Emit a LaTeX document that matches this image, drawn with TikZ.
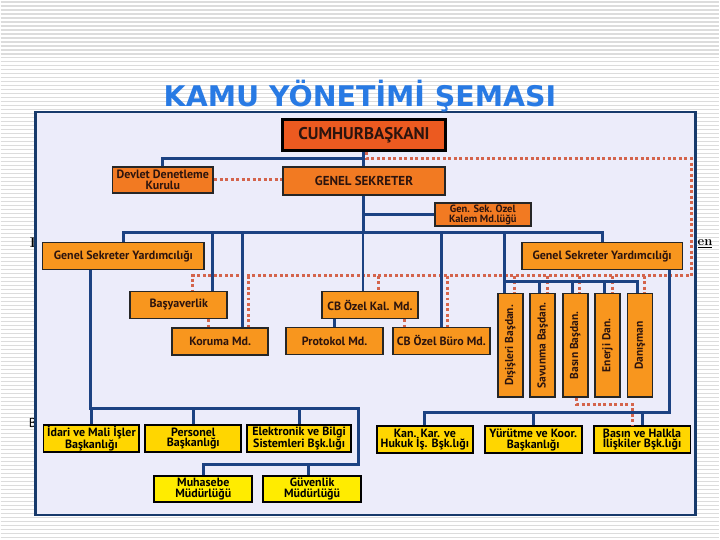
\documentclass[tikz,border=0pt]{standalone}
\usepackage{fontspec}
\setsansfont{PT Sans}
\newfontfamily\titlefont{DejaVu Sans}
\usetikzlibrary{positioning}
\usetikzlibrary{calc}

\definecolor{busblue}{RGB}{28,66,130}
\definecolor{frameblue}{RGB}{23,58,107}
\definecolor{panelbg}{RGB}{236,236,250}
\definecolor{dotred}{RGB}{212,100,76}
\definecolor{titleblue}{RGB}{40,122,228}
\definecolor{cbred}{RGB}{236,90,32}
\definecolor{gsorange}{RGB}{242,122,34}
\definecolor{boxorange}{RGB}{248,150,30}
\definecolor{boxyellow}{RGB}{255,214,0}
\definecolor{boxyellowb}{RGB}{255,236,0}
\definecolor{boxtext}{RGB}{44,20,14}
\definecolor{stripe}{RGB}{220,220,220}

\begin{document}
\begin{tikzpicture}[x=1pt, y=-1pt,
    box/.style = {draw=black!85, line width=1.8pt, inner sep=1pt, align=center, text=boxtext,
                  font=\sffamily\bfseries\fontsize{12}{11}\selectfont},
    orangebox/.style = {box, fill=boxorange, minimum width=96pt, minimum height=27pt},
    yellowbox/.style = {box, draw=black, fill=boxyellow, text=black, minimum width=96pt, minimum height=27pt,
                  font=\sffamily\bfseries\fontsize{12}{10.5}\selectfont},
    vbox/.style = {box, fill=boxorange, rotate=90, minimum width=104pt, minimum height=25pt,
                  font=\sffamily\bfseries\fontsize{11.5}{10}\selectfont},
    bus/.style = {busblue, line width=3pt},
    dots/.style = {dotred, line width=3pt, dash pattern=on 3pt off 2.5pt},
    stray/.style = {inner sep=0pt, anchor=base west, text=black}
    ]

    % --- Sfondo a righe ---
    \fill[white] (0,0) rectangle (720,540);
    \foreach \y in {2,6,...,538}
        \draw[stripe, line width=1.2pt] (0,\y) -- (720,\y);

    % --- Resti di testo dietro il pannello ---
    \node[stray, font=\rmfamily\bfseries\fontsize{14}{14}\selectfont] (strayI) at (29,248) {I};
    \node[stray, font=\sffamily\fontsize{13}{13}\selectfont] (strayB) at (28,428) {B};
    \node[stray, font=\rmfamily\bfseries\fontsize{13}{13}\selectfont] (strayEn) at (698,246) {\underline{en}};

    % --- Pannello ---
    \draw[frameblue, line width=2.5pt, fill=panelbg] (35,112) rectangle (696,516);

    % --- Titolo ---
    \node[anchor=base, inner sep=0pt, text=titleblue,
          font=\titlefont\bfseries\fontsize{28.5}{28.5}\selectfont] (title) at (360,107) {KAMU YÖNETİMİ ŞEMASI};

    % --- Nodi ---
    \node[box, fill=cbred, draw=black, line width=3pt, minimum width=164pt, minimum height=31pt,
          font=\sffamily\bfseries\fontsize{17}{17}\selectfont] (cb) at (364,135.5) {CUMHURBAŞKANI};
    \node[orangebox, fill=gsorange, minimum width=162pt, minimum height=28pt,
          font=\sffamily\bfseries\fontsize{13}{13}\selectfont] (gs) at (364,181) {GENEL SEKRETER};
    \node[orangebox, fill=gsorange, minimum width=101pt, minimum height=26pt] (ddk) at (162.5,180) {Devlet Denetleme\\Kurulu};
    \node[orangebox, fill=gsorange, minimum height=23pt,
          font=\sffamily\bfseries\fontsize{10.5}{9.5}\selectfont] (gsozel) at (483,214.5) {Gen. Sek. Özel\\Kalem Md.lüğü};

    \node[orangebox, minimum width=162pt] (gsyl) at (123,256.5) {Genel Sekreter Yardımcılığı};
    \node[orangebox, minimum width=161pt] (gsyr) at (602.5,256.5) {Genel Sekreter Yardımcılığı};

    \node[orangebox, minimum width=97pt] (basy) at (178.5,305.5) {Başyaverlik};
    \node[orangebox] (cbkal) at (370,305.5) {CB Özel Kal. Md.};
    \node[orangebox] (koruma) at (220,342) {Koruma Md.};
    \node[orangebox, minimum width=97pt] (protokol) at (334.5,341.5) {Protokol Md.};
    \node[orangebox, minimum width=97pt] (buro) at (441.5,341.5) {CB Özel Büro Md.};

    \foreach \i/\t in {1/Dışişleri Başdan., 2/Savunma Başdan., 3/Basın Başdan., 4/Enerji Dan., 5/Danışman}
        \node[vbox] (d\i) at ({510.5+32.5*(\i-1)},346) {\t};

    \node[yellowbox] (idari) at (91,439.5) {İdari ve Mali İşler\\Başkanlığı};
    \node[yellowbox] (personel) at (193,439.5) {Personel\\Başkanlığı};
    \node[yellowbox, minimum width=104pt] (elektronik) at (299,439.5) {Elektronik ve Bilgi\\Sistemleri Bşk.lığı};
    \node[yellowbox, fill=boxyellowb, minimum width=98pt, minimum height=26pt] (muhasebe) at (203,490) {Muhasebe\\Müdürlüğü};
    \node[yellowbox, fill=boxyellowb, minimum width=98pt, minimum height=26pt] (guvenlik) at (312,490) {Güvenlik\\Müdürlüğü};
    \node[yellowbox] (kankar) at (425,440.5) {Kan. Kar. ve\\Hukuk İş. Bşk.lığı};
    \node[yellowbox, minimum width=97pt] (yurutme) at (533.5,440.5) {Yürütme ve Koor.\\Başkanlığı};
    \node[yellowbox, minimum width=97pt] (basinhalk) at (642.5,440.5) {Basın ve Halkla\\İlişkiler Bşk.lığı};

    % --- Livelli delle linee ---
    \coordinate (barCB) at (0,159);
    \coordinate (busA) at (0,233);
    \coordinate (dotA) at (0,276);
    \coordinate (busB) at (0,282);
    \coordinate (busD) at (0,405);
    \coordinate (busL) at (0,409);
    \coordinate (busR) at (0,413);
    \coordinate (busM) at (0,465);
    \coordinate (cornerL) at (358,409);
    \coordinate (dotR) at (692,276);

    % --- Linee tratteggiate ---
    \coordinate (cbD) at ($(cb.south)+(3,0)$);
    \coordinate (basyD) at ($(basy.north)+(13.5,0)$);
    \coordinate (korD) at ($(koruma.north)+(28,0)$);
    \coordinate (cbkD) at ($(cbkal.north)+(9,0)$);
    \coordinate (buroD) at ($(buro.north)+(6.5,0)$);
    \coordinate (basyS) at ($(basy.south)+(29.5,0)$);
    \coordinate (cbkS) at ($(cbkal.south)+(35,0)$);
    \coordinate (d3S) at ($(d3.west)+(1.5,0)$);
    \coordinate (bhD) at ($(basinhalk.north)+(-9.5,0)$);

    \draw[dots] (cbD) |- (dotR |- barCB) -- (dotR) -- (basyD |- dotA) -- (basyD);
    \draw[dots] (ddk.east) -- (ddk.east -| gs.west);
    \draw[dots] (korD |- dotA) -- (korD);
    \draw[dots] (cbkD |- dotA) -- (cbkD);
    \draw[dots] (buroD |- dotA) -- (buroD);
    \foreach \i in {1,...,5} {
        \coordinate (dD\i) at ($(d\i.east)+(4.5,0)$);
        \draw[dots] (dD\i |- dotA) -- (dD\i);
    }
    \draw[dots] (basyS) -- (basyS |- koruma.north);
    \draw[dots] (cbkS) -- (cbkS |- buro.north);
    \draw[dots] (d3S) |- (bhD |- busD) -- (bhD);

    % --- Linee blu ---
    \draw[bus] (cb.south) -- (gs.north);
    \draw[bus] (cb.south |- barCB) -| (ddk.north);
    \draw[bus] (gs.south) -- (gs.south |- busA);
    \draw[bus] (gs.south |- gsozel.west) -- (gsozel.west);
    \draw[bus] (gsyl.north) -- (gsyl.north |- busA) -| (gsyr.north);

    \coordinate (basyA) at ($(basy.north)+(33.5,0)$);
    \coordinate (korA) at ($(koruma.north)+(22,0)$);
    \coordinate (cbkA) at ($(cbkal.north)+(-7,0)$);
    \coordinate (dA) at ($(d1.east)+(-5.5,0)$);
    \draw[bus] (basyA) -- (basyA |- busA);
    \draw[bus] (korA) -- (korA |- busA);
    \draw[bus] (cbkA) -- (cbkA |- busA);
    \draw[bus] (buro.north) -- (buro.north |- busA);
    \draw[bus] (dA) -- (dA |- busA);
    \draw[bus] (protokol.north) -- (protokol.north |- cbkal.south);

    % piccolo bus dei consiglieri
    \coordinate (dB5) at ($(d5.east)+(-2.5,0)$);
    \draw[bus] (dA |- busB) -| (dB5);
    \foreach \i in {2,3,4} {
        \coordinate (dB\i) at ($(d\i.east)+(-3,0)$);
        \draw[bus] (dB\i) -- (dB\i |- busB);
    }

    % rami in basso a sinistra
    \coordinate (gsylB) at ($(gsyl.south)+(-33,0)$);
    \coordinate (guvA) at ($(guvenlik.north)+(-4,0)$);
    \draw[bus] (gsylB) |- (cornerL) -- (cornerL |- busM) -| (muhasebe.north);
    \draw[bus] (idari.north) -- (idari.north |- busL);
    \draw[bus] (personel.north) -- (personel.north |- busL);
    \draw[bus] (elektronik.north) -- (elektronik.north |- busL);
    \draw[bus] (guvA) -- (guvA |- busM);

    % rami in basso a destra
    \coordinate (gsyrB) at ($(gsyr.south)+(67.5,0)$);
    \draw[bus] (gsyrB) |- (kankar.north |- busR) -- (kankar.north);
    \draw[bus] (yurutme.north) -- (yurutme.north |- busR);
    \draw[bus] (basinhalk.north) -- (basinhalk.north |- busR);

\end{tikzpicture}
\end{document}
